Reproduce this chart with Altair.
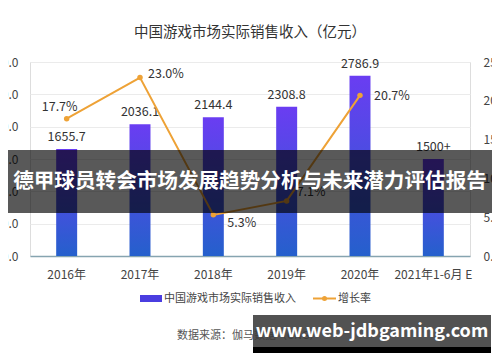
import altair as alt
import pandas as pd

# ---- data ----
years = ["2016年", "2017年", "2018年", "2019年", "2020年", "2021年1-6月 E"]
revenue = [1655.7, 2036.1, 2144.4, 2308.8, 2786.9, 1500.0]
revenue_labels = ["1655.7", "2036.1", "2144.4", "2308.8", "2786.9", "1500+"]
growth = [17.7, 23.0, 5.3, 7.1, 20.7, None]
left_ticks = [0, 500, 1000, 1500, 2000, 2500, 3000]
right_ticks = [0, 5, 10, 15, 20, 25]

title_text = "中国游戏市场实际销售收入（亿元）"
legend_bar = "中国游戏市场实际销售收入"
legend_line = "增长率"
source_text = "数据来源：伽马数据（CNG）"
banner_text = "德甲球员转会市场发展趋势分析与未来潜力评估报告"
footer_text = "www.web-jdbgaming.com"

FONT = "Noto Sans CJK SC"
ORANGE = "#eea236"
df = pd.DataFrame({"year": years, "revenue": revenue, "rlabel": revenue_labels, "growth": growth})

grad = alt.Gradient(
    gradient="linear",
    stops=[alt.GradientStop(offset=0, color="#6a3df2"), alt.GradientStop(offset=1, color="#2560cc")],
    x1=1, x2=1, y1=0, y2=1,
)

x = alt.X(
    "year:N", sort=years,
    scale=alt.Scale(paddingInner=0.714, paddingOuter=0.357),
    axis=alt.Axis(title=None, labelAngle=0, ticks=False, domainColor="#86a4b0", domainWidth=1.5,
                  labelFontSize=12, labelColor="#444", labelPadding=13, labelFont=FONT),
)
y_left = alt.Y("revenue:Q", scale=alt.Scale(domain=[0, 3000], nice=False),
               axis=alt.Axis(title=None, values=left_ticks, format=".1f", grid=True, gridColor="#ebebeb",
                             domain=False, ticks=False, labelPadding=12, labelFontSize=12,
                             labelColor="#444", labelFont=FONT, orient="left"))
y_right = alt.Y("growth:Q", scale=alt.Scale(domain=[0, 25], nice=False),
                axis=alt.Axis(title=None, values=right_ticks, labelExpr="format(datum.value, '.1f') + '%'",
                              grid=False, domain=False, ticks=False, labelPadding=13, labelFontSize=12,
                              labelColor="#444", labelFont=FONT, orient="right"))

bars = alt.Chart(df).mark_bar(color=grad).encode(x=x, y=y_left)
bar_text = alt.Chart(df).mark_text(baseline="bottom", dy=-5, fontSize=12.5, color="#333", font=FONT).encode(
    x=x, y=y_left, text="rlabel:N"
)
bar_layer = alt.layer(bars, bar_text)

line_base = alt.Chart(df).transform_filter("isValid(datum.growth)").transform_calculate(
    plabel="format(datum.growth, '.1f') + '%'"
)
line = line_base.mark_line(color=ORANGE, strokeWidth=2).encode(x=x, y=y_right)
points = line_base.mark_point(filled=True, size=30, color=ORANGE, opacity=1).encode(x=x, y=y_right)


def pct(yrs, **kw):
    return line_base.transform_filter(alt.FieldOneOfPredicate(field="year", oneOf=yrs)).mark_text(
        fontSize=12.5, color="#333", font=FONT, **kw
    ).encode(x=x, y=y_right, text="plabel:N")


pct_a = pct(["2016年"], align="center", dx=-7, dy=-12)
pct_b = pct(["2017年"], align="left", dx=8, dy=-4)
pct_c = pct(["2018年"], align="left", dx=14, dy=8)
pct_d = pct(["2019年"], align="left", dx=10, dy=-9)
pct_e = pct(["2020年"], align="left", dx=14, dy=1)
line_layer = alt.layer(line, points, pct_a, pct_b, pct_c, pct_d, pct_e)


def deco(text):
    return alt.Chart(pd.DataFrame({"t": [text]}))


title = deco(title_text).mark_text(fontSize=14.5, color="#333", font=FONT).encode(
    x=alt.value(220), y=alt.value(-29), text="t:N")

leg_rect = deco(legend_bar).mark_rect(color="#4a3de0").encode(
    x=alt.value(110), x2=alt.value(132), y=alt.value(233), y2=alt.value(240))
leg_text1 = deco(legend_bar).mark_text(align="left", fontSize=11, color="#444", font=FONT).encode(
    x=alt.value(134), y=alt.value(236.5), text="t:N")
leg_line = deco(legend_line).mark_rule(color=ORANGE, strokeWidth=2).encode(
    x=alt.value(283), x2=alt.value(306), y=alt.value(236.5))
leg_dot = deco(legend_line).mark_point(filled=True, size=25, color=ORANGE, opacity=1).encode(
    x=alt.value(294.5), y=alt.value(236.5))
leg_text2 = deco(legend_line).mark_text(align="left", fontSize=11, color="#444", font=FONT).encode(
    x=alt.value(308), y=alt.value(236.5), text="t:N")

source = deco(source_text).mark_text(align="left", fontSize=11, color="#555", font=FONT).encode(
    x=alt.value(147), y=alt.value(274), text="t:N")

banner_rect = deco(banner_text).mark_rect(color="#000000", opacity=0.65).encode(
    x=alt.value(-22), x2=alt.value(462), y=alt.value(88), y2=alt.value(151))
banner_txt = deco(banner_text).mark_text(fontSize=20.6, fontWeight="bold", color="white", font=FONT).encode(
    x=alt.value(220), y=alt.value(120), text="t:N")

footer_rect = deco(footer_text).mark_rect(color="#3a3a3a", opacity=0.88).encode(
    x=alt.value(223), x2=alt.value(461), y=alt.value(253), y2=alt.value(285))
footer_strip = deco(footer_text).mark_rect(color="#000000").encode(
    x=alt.value(223), x2=alt.value(461), y=alt.value(285), y2=alt.value(291))
footer_txt = deco(footer_text).mark_text(fontSize=18, fontWeight="bold", color="white", font=FONT).encode(
    x=alt.value(342), y=alt.value(270), text="t:N")

chart = alt.layer(
    bar_layer, line_layer, title, leg_rect, leg_text1, leg_line, leg_dot, leg_text2, source,
    banner_rect, banner_txt, footer_rect, footer_strip, footer_txt,
).resolve_scale(y="independent").properties(
    width=440, height=194,
    padding={"left": 22, "top": 54, "right": 22, "bottom": 98},
    autosize=alt.AutoSizeParams(type="none"),
    background="white",
).configure_view(stroke=None).configure(font=FONT)

chart.save("out.html", embed_options={"renderer": "svg", "actions": False})
